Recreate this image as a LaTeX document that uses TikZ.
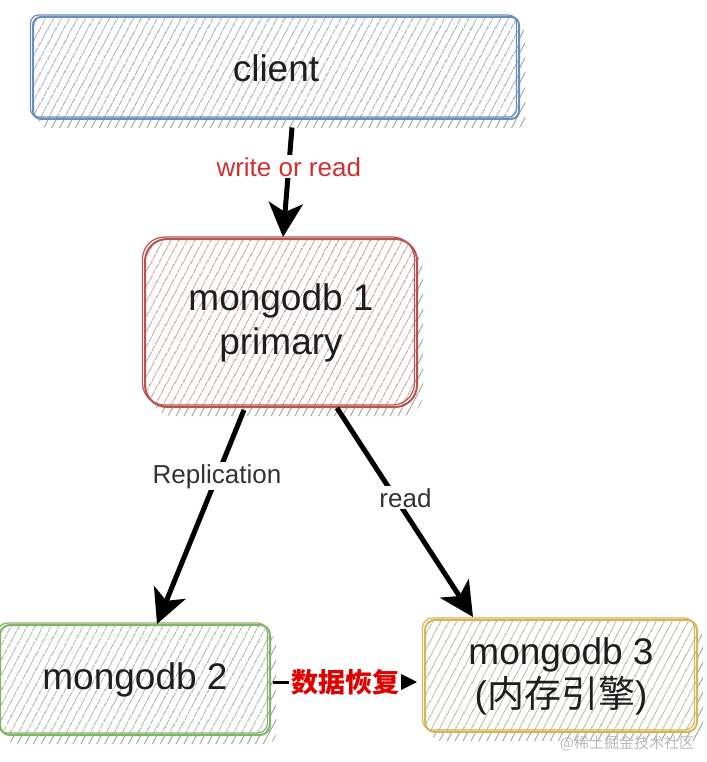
\documentclass[tikz,border=0pt]{standalone}
\usepackage{fontspec}
\setmainfont{Liberation Sans}
\newfontfamily\cjk{Noto Sans CJK SC}
\usetikzlibrary{patterns.meta,arrows.meta,calc}
\definecolor{cblue}{HTML}{6C8EBF}
\definecolor{cred}{HTML}{B85450}
\definecolor{cgreen}{HTML}{82B366}
\definecolor{cyellow}{HTML}{D6B656}
\definecolor{shadowgray}{HTML}{A8A8A8}
\definecolor{hblue}{HTML}{A9B0BA}
\definecolor{hred}{HTML}{CFA0A0}
\definecolor{hgreen}{HTML}{AEB8AA}
\definecolor{hyellow}{HTML}{BDBAA8}
\definecolor{txt}{HTML}{1E1E1E}
\definecolor{labred}{HTML}{D03030}
\definecolor{labgray}{HTML}{333333}
\definecolor{brightred}{HTML}{E00000}
\tikzset{
  box/.style={line width=2pt, align=center, inner sep=0pt, text=txt,
    font=\fontsize{37}{44}\selectfont,
    preaction={pattern={Lines[angle=62,distance=7pt,line width=1pt]}, pattern color=shadowgray,
      transform canvas={shift={(6pt,-9pt)}}},
    preaction={fill=white},
    pattern={Lines[angle=62,distance=6.5pt,line width=1pt]},
    postaction={draw, line width=1.2pt, transform canvas={shift={(-2.5pt,2pt)}}}},
  arr/.style={line width=5pt, black, -{Stealth[length=34pt,width=34pt,inset=9pt]}},
  arrsmall/.style={line width=3pt, black, -{Stealth[length=21pt,width=21pt,inset=5pt]}},
  lab/.style={fill=white, inner sep=2pt, font=\fontsize{26}{30}\selectfont},
}
\begin{document}
\begin{tikzpicture}[x=1pt,y=-1pt]
\useasboundingbox (0,0) rectangle (706,762);
\node[box, draw=cblue, pattern color=hblue, rounded corners=8pt,
  minimum width=486pt, minimum height=102pt] (client) at (276,68) {client};
\node[box, draw=cred, pattern color=hred, rounded corners=22pt,
  minimum width=272pt, minimum height=168pt] (primary) at (281,323) {mongodb 1\\primary};
\node[box, draw=cgreen, pattern color=hgreen, rounded corners=10pt,
  minimum width=270pt, minimum height=110pt] (m2) at (135,680) {\raisebox{-4pt}{mongodb 2}};
\node[box, draw=cyellow, pattern color=hyellow, rounded corners=10pt,
  minimum width=272pt, minimum height=112pt] (m3) at (561,676) {mongodb 3\\[-1pt]({\cjk 内存引擎})};

\draw[arr] ($(client.south)+(16,8)$) -- node[lab, text=labred, pos=0.36] (l1) {write or read} ($(primary.north)+(2,-1)$);
\draw[arr] ($(primary.south)+(-37,2)$) -- node[lab, text=labgray, pos=0.31] (l2) {Replication} ($(m2.north)+(22,0)$);
\draw[arr] ($(primary.south)+(56,0)$) -- node[lab, text=labgray, pos=0.43, xshift=10pt] (l3) {read} ($(m3.north)+(-88,-2)$);
\draw[arrsmall] ($(m2.east)+(2,2)$) -- node[lab, text=brightred, font=\cjk\bfseries\fontsize{27}{30}\selectfont] (l4) {数据恢复} ($(m3.west)+(-7,6)$);

\node[text=gray!55, font=\cjk\fontsize{15}{18}\selectfont] (wm) at (627,743) {@稀土掘金技术社区};
\end{tikzpicture}
\end{document}
